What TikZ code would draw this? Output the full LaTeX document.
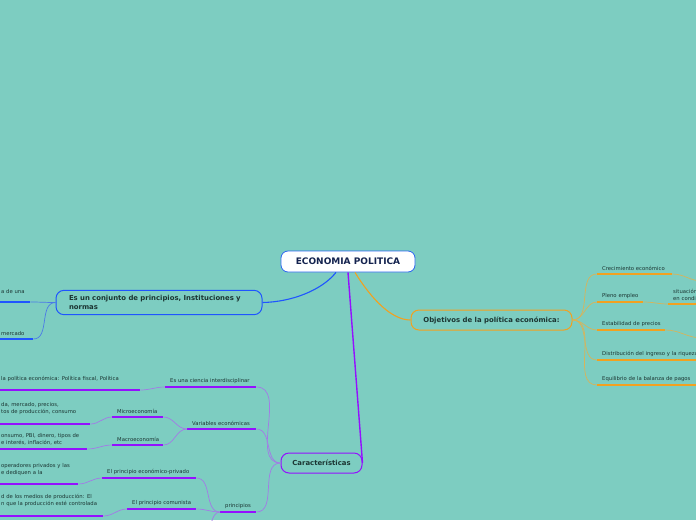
\documentclass[tikz,border=0pt]{standalone}
\usepackage{fontspec}
\setmainfont{DejaVu Sans}
\usetikzlibrary{positioning}
\definecolor{bgteal}{HTML}{7DCDC1}
\definecolor{rootblue}{HTML}{2C66F0}
\definecolor{mmblue}{HTML}{1F55FF}
\definecolor{mmorange}{HTML}{F2A11F}
\definecolor{mmpurple}{HTML}{9410FF}
\definecolor{linkblue}{HTML}{4C7BE6}
\definecolor{linkorange}{HTML}{D7B45A}
\definecolor{linkpurple}{HTML}{A27BE6}
\definecolor{inktext}{HTML}{1B3532}
\definecolor{inknavy}{HTML}{14234F}

\begin{document}
\begin{tikzpicture}[
  x=1pt,y=-1pt,
  every node/.style={font=\fontsize{5.3}{7}\selectfont, text=inktext},
  root/.style={draw=rootblue, line width=0.8pt, fill=white, rounded corners=7pt, minimum width=134pt, minimum height=21pt, font=\fontsize{9}{11}\selectfont\bfseries, text=inknavy},
  topic/.style={draw=#1, line width=1pt, rounded corners=8pt, align=left, font=\fontsize{6.9}{9}\selectfont\bfseries},
  item/.style={anchor=south west, inner xsep=5pt, inner ysep=3pt, align=left,
    append after command={(\tikzlastnode.south west) edge[draw=#1, line width=1.8pt] (\tikzlastnode.south east)}},
  oneline/.style={execute at begin node=\hbox\bgroup, execute at end node=\egroup},
  leaf/.style={item=#1, inner xsep=1pt},
  link/.style={draw=#1, line width=0.7pt}
]
\useasboundingbox (0,0) rectangle (696,520);
\clip (0,0) rectangle (696,520);
\fill[bgteal] (0,0) rectangle (696,520);

% central topic and main branches
\node[root] (eco) at (348,261.5) {ECONOMIA POLITICA};
\node[topic=mmblue, text width=180pt, inner xsep=13pt, inner ysep=5pt] (conj) at (159,302.5) {Es un conjunto de principios, Instituciones y\\normas};
\node[topic=mmorange, minimum width=161pt, minimum height=20pt] (obj) at (491.5,320) {Objetivos de la política económica:};
\node[topic=mmpurple, minimum width=81pt, minimum height=20pt] (car) at (321.5,463) {Características};

\draw[mmblue, line width=1.1pt] ([xshift=-12pt]eco.south) .. controls (322,290) and (292,302) .. (conj.east);
\draw[mmorange, line width=1.1pt] ([xshift=7pt]eco.south) .. controls (372,300) and (392,320) .. (obj.west);
\draw[mmpurple, line width=1.4pt] (eco.south) -- (car.east);

% blue branch
\node[leaf=mmblue, text width=28pt, inner ysep=8pt] (una) at (0,302) {a de una};
\node[leaf=mmblue, text width=31pt, inner ysep=3.5pt] (merc) at (0,339) {mercado};
\draw[link=linkblue] (conj.west) to[out=180,in=0] (una.south east);
\draw[link=linkblue] (conj.west) to[out=180,in=0] (merc.south east);

% orange branch
\node[item=mmorange, oneline, text width=65pt] (crec) at (597,274) {Crecimiento económico};
\node[item=mmorange, oneline, text width=36pt] (pleno) at (597,302) {Pleno empleo};
\node[item=mmorange, oneline, text width=58pt] (estab) at (597,330) {Estabilidad de precios};
\node[item=mmorange, oneline, text width=110pt] (distr) at (597,360) {Distribución del ingreso y la riqueza};
\node[item=mmorange, oneline, text width=110pt] (equil) at (597,385) {Equilibrio de la balanza de pagos};
\node[item=mmorange, text width=40pt] (situ) at (668,304) {situación\\en condiciones};
\coordinate (crecout) at (702,281);
\coordinate (estabout) at (702,338);
\foreach \k in {crec,pleno,estab,distr,equil}
  \draw[link=linkorange] (obj.east) to[out=0,in=180] (\k.south west);
\draw[link=linkorange] (crec.south east) to[out=0,in=180] (crecout);
\draw[link=linkorange] (pleno.south east) to[out=0,in=180] (situ.south west);
\draw[link=linkorange] (estab.south east) to[out=0,in=180] (estabout);

% purple branch
\node[item=mmpurple, oneline, text width=81pt] (inter) at (165,387) {Es una ciencia interdisciplinar};
\node[item=mmpurple, oneline, text width=59pt] (varia) at (187,429) {Variables económicas};
\node[item=mmpurple, oneline, text width=26pt] (princ) at (220,512) {principios};
\node[item=mmpurple, oneline, text width=41pt] (micro) at (112,417) {Microeconomía};
\node[item=mmpurple, oneline, text width=41pt] (macro) at (112,445) {Macroeconomía};
\node[item=mmpurple, oneline, text width=84pt] (priv) at (102,478) {El principio económico-privado};
\node[item=mmpurple, oneline, text width=59pt] (comun) at (127,509) {El principio comunista};

\node[leaf=mmpurple, text width=138pt, inner ysep=8pt] (interhoja) at (0,390) {la política económica: Política fiscal, Política};
\node[leaf=mmpurple, text width=88pt, inner ysep=9pt] (microhoja) at (0,424) {da, mercado, precios,\\tos de producción, consumo};
\node[leaf=mmpurple, text width=85pt, inner ysep=3.5pt] (macrohoja) at (0,449) {onsumo, PBI, dinero, tipos de\\e interés, inflación, etc};
\node[leaf=mmpurple, text width=76pt, inner ysep=8pt] (privhoja) at (0,484) {operadores privados y las\\e dediquen a la};
\node[leaf=mmpurple, text width=101pt, inner ysep=9pt] (comunhoja) at (0,516) {d de los medios de producción: El\\n que la producción esté controlada};
\coordinate (princout) at (203,532);

\foreach \k in {inter,varia,princ}
  \draw[link=linkpurple] (car.west) to[out=180,in=0] (\k.south east);
\draw[link=linkpurple] (inter.south west) to[out=180,in=0] (interhoja.south east);
\draw[link=linkpurple] (varia.south west) to[out=180,in=0] (micro.south east);
\draw[link=linkpurple] (varia.south west) to[out=180,in=0] (macro.south east);
\draw[link=linkpurple] (micro.south west) to[out=180,in=0] (microhoja.south east);
\draw[link=linkpurple] (macro.south west) to[out=180,in=0] (macrohoja.south east);
\draw[link=linkpurple] (princ.south west) to[out=180,in=0] (priv.south east);
\draw[link=linkpurple] (princ.south west) to[out=180,in=0] (comun.south east);
\draw[link=linkpurple] (princ.south west) to[out=180,in=0] (princout);
\draw[link=linkpurple] (priv.south west) to[out=180,in=0] (privhoja.south east);
\draw[link=linkpurple] (comun.south west) to[out=180,in=0] (comunhoja.south east);
\end{tikzpicture}
\end{document}
